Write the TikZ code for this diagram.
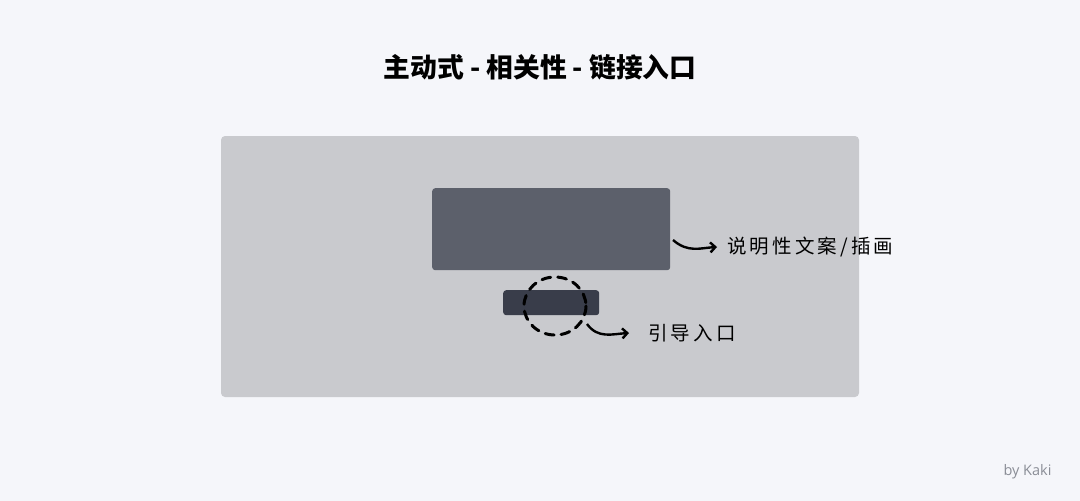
\documentclass[tikz,border=0pt]{standalone}
\usepackage{fontspec}
\setmainfont{Noto Sans CJK SC}
\newfontfamily\cjknote[LetterSpace=16]{Noto Sans CJK SC}
\newfontfamily\cjktitle{Noto Sans CJK SC Black}
\setsansfont{Open Sans}
\usepackage{tikz}
\usetikzlibrary{arrows.meta}
\definecolor{pagebg}{HTML}{F5F6FA}
\definecolor{panelgray}{HTML}{C9CACE}
\definecolor{textbox}{HTML}{5C606B}
\definecolor{linkbox}{HTML}{393D4A}
\definecolor{signgray}{HTML}{8A8D96}
\tikzset{
	panel/.style    = {fill = panelgray, rounded corners = 4pt, inner sep = 0pt},
	block/.style    = {rounded corners = 3pt, inner sep = 0pt, anchor = north west},
	note/.style     = {font = \cjknote\fontsize{19.5}{19.5}\selectfont, anchor = west, inner sep = 0pt},
	pointer/.style  = {line width = 2.4pt, -{Straight Barb[length=5pt,width=10pt]}}
}

\begin{document}
\begin{tikzpicture}[x=1pt, y=-1pt]
	\fill[pagebg] (0,0) rectangle (1080,501);
	\useasboundingbox (0,0) rectangle (1080,501);
	% title and signature
	\node at (540,67) (title) {\cjktitle\fontsize{26.8}{26.8}\selectfont 主动式 - 相关性 - 链接入口};
	\node[anchor = east, text = signgray] at (1055,472) (sign) {\sffamily\fontsize{14.5}{14.5}\selectfont by Kaki};
	
	% the page and its blocks
	\fill[panel] (221,136) rectangle (859,397);
	\node[block, fill = textbox, minimum width = 238pt, minimum height = 82pt] at (432,188) (desc) {};
	\node[block, fill = linkbox, minimum width = 96pt, minimum height = 25pt] at (503,290) (link) {};
	\draw[line width = 3pt, dash pattern = on 9pt off 7pt, line cap = round] (555,306) ellipse [x radius = 31, y radius = 29];
	\coordinate (ring) at (587,324);
	\coordinate (descfoot) at (673,240);
	
	% notes
	\node[note] at (727,247) (desctext) {说明性文案/插画};
	\node[note] at (648,333) (linktext) {引导入口};
	
	\draw[pointer] (descfoot) .. controls (688,253) and (700,248) .. ([xshift=-10pt]desctext.west);
	\draw[pointer] (ring) .. controls (598,339) and (612,334) .. ([xshift=-19pt]linktext.west);
\end{tikzpicture}
\end{document}
